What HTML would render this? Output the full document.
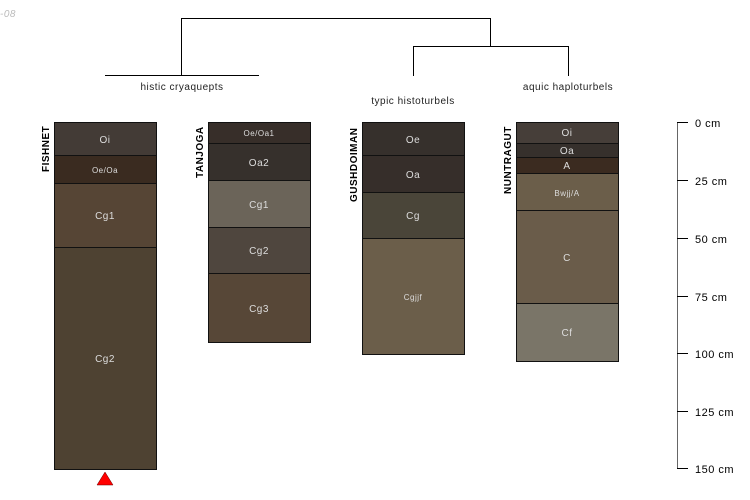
<!DOCTYPE html>
<html><head><meta charset="utf-8"><style>html,body{margin:0;padding:0;background:#fff;}svg{display:block;font-family:"Liberation Sans",sans-serif;letter-spacing:0.5px;}</style></head>
<body>
<svg width="750" height="500" viewBox="0 0 750 500" xmlns="http://www.w3.org/2000/svg">
<text x="0" y="17" font-size="10" fill="#bbb" font-style="italic">-08</text>
<g stroke="#000" stroke-width="1" fill="none">
<path d="M181.5 75V18.5H490.5V46.5"/>
<path d="M105 75.5H259"/>
<path d="M413.5 76V46.5H568.5V76"/>
</g>
<g font-size="10" fill="#222" text-anchor="middle">
<text x="182" y="90">histic cryaquepts</text>
<text x="413" y="104">typic histoturbels</text>
<text x="568" y="90">aquic haploturbels</text>
</g>
<g stroke="#111" stroke-width="1">
<rect x="54.5" y="122.5" width="102" height="33" fill="#433b36"/>
<rect x="54.5" y="155.5" width="102" height="28" fill="#3a2b20"/>
<rect x="54.5" y="183.5" width="102" height="64" fill="#564535"/>
<rect x="54.5" y="247.5" width="102" height="222" fill="#4e4232"/>
<rect x="208.5" y="122.5" width="102" height="21" fill="#372e29"/>
<rect x="208.5" y="143.5" width="102" height="37" fill="#36302c"/>
<rect x="208.5" y="180.5" width="102" height="47" fill="#6b6459"/>
<rect x="208.5" y="227.5" width="102" height="46" fill="#4f463e"/>
<rect x="208.5" y="273.5" width="102" height="69" fill="#574737"/>
<rect x="362.5" y="122.5" width="102" height="33" fill="#36302c"/>
<rect x="362.5" y="155.5" width="102" height="37" fill="#362e2a"/>
<rect x="362.5" y="192.5" width="102" height="46" fill="#4a4539"/>
<rect x="362.5" y="238.5" width="102" height="116" fill="#6b5e4a"/>
<rect x="516.5" y="122.5" width="102" height="21" fill="#463e39"/>
<rect x="516.5" y="143.5" width="102" height="14" fill="#36302c"/>
<rect x="516.5" y="157.5" width="102" height="16" fill="#3b2b20"/>
<rect x="516.5" y="173.5" width="102" height="37" fill="#6b5e4a"/>
<rect x="516.5" y="210.5" width="102" height="93" fill="#6a5c4a"/>
<rect x="516.5" y="303.5" width="102" height="58" fill="#7a7568"/>
</g>
<g fill="#ddd" text-anchor="middle" font-size="10">
<text x="105" y="143">Oi</text>
<text x="105" y="173" font-size="8">Oe/Oa</text>
<text x="105" y="219">Cg1</text>
<text x="105" y="362">Cg2</text>
<text x="259" y="136" font-size="8">Oe/Oa1</text>
<text x="259" y="166">Oa2</text>
<text x="259" y="208">Cg1</text>
<text x="259" y="254">Cg2</text>
<text x="259" y="312">Cg3</text>
<text x="413" y="143">Oe</text>
<text x="413" y="178">Oa</text>
<text x="413" y="219">Cg</text>
<text x="413" y="300" font-size="8">Cgjjf</text>
<text x="567" y="136">Oi</text>
<text x="567" y="154">Oa</text>
<text x="567" y="169">A</text>
<text x="567" y="196" font-size="8">Bwjj/A</text>
<text x="567" y="261">C</text>
<text x="567" y="336">Cf</text>
</g>
<g font-size="10" font-weight="bold" fill="#000">
<text transform="translate(49,172) rotate(-90)">FISHNET</text>
<text transform="translate(203,178) rotate(-90)">TANJOGA</text>
<text transform="translate(357,202) rotate(-90)">GUSHDOIMAN</text>
<text transform="translate(511,194) rotate(-90)">NUNTRAGUT</text>
</g>
<polygon points="105,472 97,485 113,485" fill="#f00" stroke="#600" stroke-width="0.5"/>
<g stroke="#666" stroke-width="1">
<path d="M677.5 122V469"/>
<g stroke="#000"><path d="M677 122.5H688M677 180.5H688M677 238.5H688M677 296.5H688M677 353.5H688M677 411.5H688M677 468.5H688"/></g>
</g>
<g font-size="11" fill="#000">
<text x="695" y="127">0 cm</text>
<text x="695" y="185">25 cm</text>
<text x="695" y="243">50 cm</text>
<text x="695" y="301">75 cm</text>
<text x="695" y="358">100 cm</text>
<text x="695" y="416">125 cm</text>
<text x="695" y="473">150 cm</text>
</g>
</svg>
</body></html>
